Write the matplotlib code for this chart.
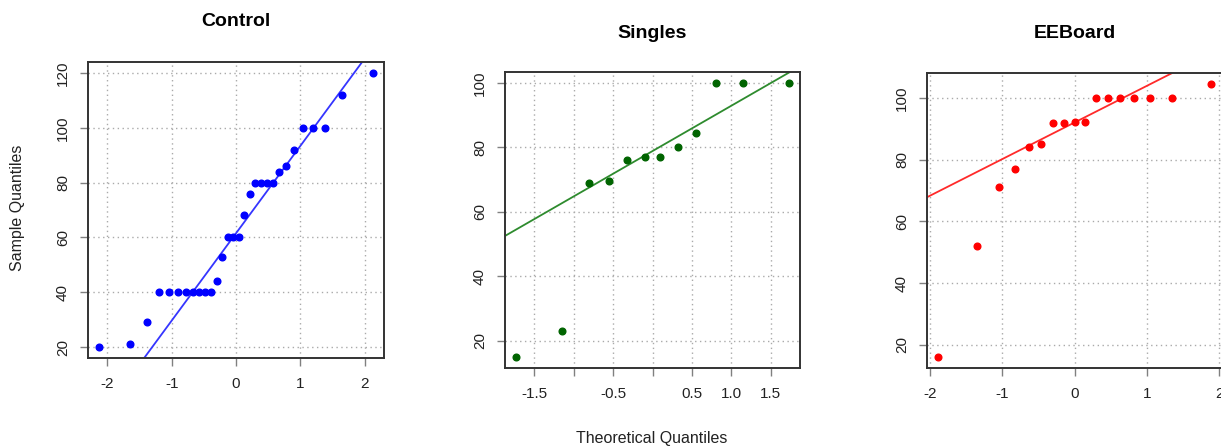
import numpy as np
import matplotlib
matplotlib.use("Agg")
import matplotlib.pyplot as plt

plt.rcParams["font.family"] = ["Liberation Sans", "DejaVu Sans"]

# valores (cuantiles teoricos, cuantiles de la muestra)
control_x = [-2.13, -1.64, -1.38, -1.19, -1.04, -0.90, -0.78, -0.67, -0.57,
             -0.48, -0.39, -0.30, -0.21, -0.13, -0.04, 0.04, 0.13, 0.21,
             0.30, 0.39, 0.48, 0.57, 0.67, 0.78, 0.90, 1.04, 1.19, 1.38,
             1.64, 2.13]
control_y = [20, 21, 29, 40, 40, 40, 40, 40, 40, 40, 40, 44, 53, 60, 60, 60,
             68, 76, 80, 80, 80, 80, 84, 86, 92, 100, 100, 100, 112, 120]

singles_x = [-1.73, -1.15, -0.81, -0.55, -0.32, -0.10, 0.10, 0.32, 0.55,
             0.81, 1.15, 1.73]
singles_y = [15, 23, 69, 69.5, 76, 77, 77, 80, 84.5, 100, 100, 100]

eeboard_x = [-1.89, -1.35, -1.05, -0.82, -0.63, -0.46, -0.30, -0.15, 0.0,
             0.15, 0.30, 0.46, 0.63, 0.82, 1.05, 1.35, 1.89]
eeboard_y = [16, 52, 71, 77, 84, 85, 92, 92, 92.3, 92.3, 100, 100, 100, 100,
             100, 100, 104.5]

paneles = [
    ("Control", control_x, control_y, "#0000FF", "#3535FF",
     [-2, -1, 0, 1, 2], ["-2", "-1", "0", "1", "2"], [20, 40, 60, 80, 100, 120]),
    ("Singles", singles_x, singles_y, "#006400", "#2E8B2E",
     [-1.5, -1.0, -0.5, 0.0, 0.5, 1.0, 1.5],
     ["-1.5", "", "-0.5", "", "0.5", "1.0", "1.5"], [20, 40, 60, 80, 100]),
    ("EEBoard", eeboard_x, eeboard_y, "#FF0000", "#FF2A2A",
     [-2, -1, 0, 1, 2], ["-2", "-1", "0", "1", "2"], [20, 40, 60, 80, 100]),
]

# posiciones de los ejes en pixeles: izquierda, derecha, arriba, abajo
cajas = [(88, 384, 62, 358), (505, 800, 72, 368), (927, 1222, 73, 368)]
titulos_y = [22, 33, 33]

W, H = 1221, 447
fig = plt.figure(figsize=(W / 100, H / 100), dpi=100)

for (titulo, xs, ys, col_pt, col_ln, xt, xtl, yt), (l, r, t, b), ty in zip(
        paneles, cajas, titulos_y):
    ax = fig.add_axes([l / W, 1 - b / H, (r - l) / W, (b - t) / H])
    xs = np.array(xs)
    ys = np.array(ys)

    # rangos como en R: 4% extra
    dx = (xs.max() - xs.min()) * 0.04
    dy = (ys.max() - ys.min()) * 0.04
    ax.set_xlim(xs.min() - dx, xs.max() + dx)
    ax.set_ylim(ys.min() - dy, ys.max() + dy)

    for v in xt:
        ax.axvline(v, color="#AAAAAA", lw=1, ls=(0, (1, 2.5)), zorder=1)
    for v in yt:
        ax.axhline(v, color="#AAAAAA", lw=1, ls=(0, (1, 2.5)), zorder=1)

    # qqline: pasa por los cuartiles
    q1, q3 = np.percentile(ys, [25, 75])
    z = 0.6744898
    pend = (q3 - q1) / (2 * z)
    inter = q1 + pend * z
    lx = np.array(ax.get_xlim())
    ax.plot(lx, inter + pend * lx, color=col_ln, lw=1.3, zorder=2)
    ax.set_xlim(lx)

    ax.plot(xs, ys, "o", color=col_pt, ms=4.8, mec=col_pt, zorder=3)

    ax.set_xticks(xt)
    ax.set_xticklabels(xtl)
    ax.set_yticks(yt)
    ax.set_yticklabels([str(v) for v in yt], rotation=90, va="center")
    ax.tick_params(axis="both", length=6, width=1, color="#808080",
                   labelsize=11, labelcolor="#222222")
    ax.tick_params(axis="x", pad=8)
    ax.tick_params(axis="y", pad=7)
    for s in ax.spines.values():
        s.set_linewidth(1.4)
        s.set_color("#333333")

    fig.text((l + r) / 2 / W, 1 - ty / H, titulo, ha="center", va="center",
             fontsize=14, fontweight="bold")

fig.text(18 / W, 1 - 208 / H, "Sample Quantiles", rotation=90, ha="center",
         va="center", fontsize=11.5, color="#222222")
fig.text(652 / W, 1 - 438 / H, "Theoretical Quantiles", ha="center",
         va="center", fontsize=11.5, color="#222222")

fig.savefig("out.png", dpi=100)
